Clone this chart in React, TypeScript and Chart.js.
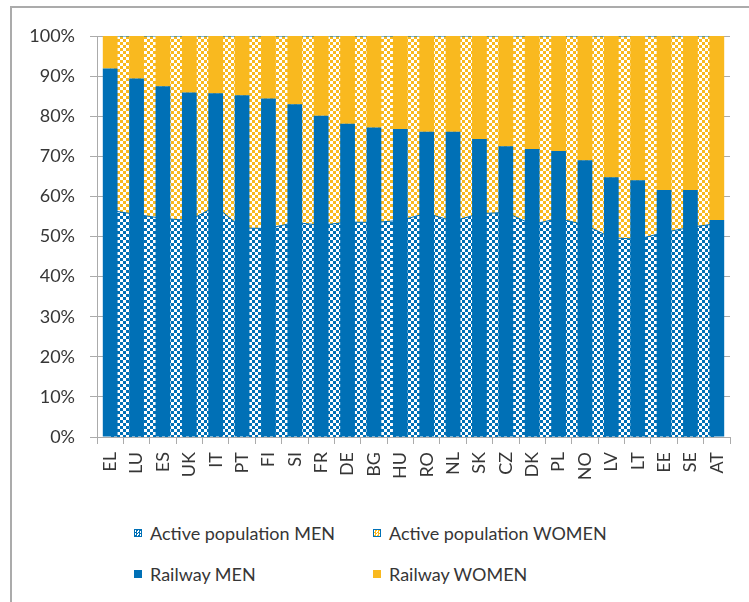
import React, { useEffect, useRef } from 'react';
import { Chart, registerables } from 'chart.js';

Chart.register(...registerables);

const categories = ['EL', 'LU', 'ES', 'UK', 'IT', 'PT', 'FI', 'SI', 'FR', 'DE', 'BG', 'HU', 'RO', 'NL', 'SK', 'CZ', 'DK', 'PL', 'NO', 'LV', 'LT', 'EE', 'SE', 'AT'];
const railwayMen = [91.9, 89.4, 87.5, 85.9, 85.7, 85.2, 84.4, 83.0, 80.1, 78.1, 77.2, 76.8, 76.1, 76.1, 74.3, 72.5, 71.8, 71.3, 69.0, 64.8, 64.0, 61.6, 61.6, 54.1];
const railwayWomen = [8.1, 10.6, 12.5, 14.1, 14.3, 14.8, 15.6, 17.0, 19.9, 21.9, 22.8, 23.2, 23.9, 23.9, 25.7, 27.5, 28.2, 28.7, 31.0, 35.2, 36.0, 38.4, 38.4, 45.9];
const activeMen = [56.5, 55.5, 54.5, 54.0, 57.5, 52.1, 52.0, 53.5, 52.8, 53.6, 53.5, 54.0, 55.8, 53.8, 55.7, 56.0, 53.0, 54.5, 52.9, 49.7, 49.3, 51.0, 52.3, 53.2];
const activeWomen = [43.5, 44.5, 45.5, 46.0, 42.5, 47.9, 48.0, 46.5, 47.2, 46.4, 46.5, 46.0, 44.2, 46.2, 44.3, 44.0, 47.0, 45.5, 47.1, 50.3, 50.7, 49.0, 47.7, 46.8];
const seriesNames = ['Active population MEN', 'Active population WOMEN', 'Railway MEN', 'Railway WOMEN'];

const BLUE = '#0070B6';
const YELLOW = '#F9B91F';
const GRID = '#ABABAB';
const TEXT = '#363636';
const FONT = 'Lato, "Open Sans", sans-serif';

function makePattern(fg: string, bg: string) {
  const c = document.createElement('canvas');
  c.width = 6;
  c.height = 6;
  const g = c.getContext('2d')!;
  g.fillStyle = bg;
  g.fillRect(0, 0, 6, 6);
  g.fillStyle = fg;
  g.fillRect(0, 0, 3, 3);
  g.fillRect(3, 3, 3, 3);
  return g.createPattern(c, 'repeat') as CanvasPattern;
}

function LegendItem({ x, y, label, box }: { x: number; y: number; label: string; box: React.CSSProperties }) {
  return (
    <div style={{ position: 'absolute', left: x, top: y, display: 'flex', alignItems: 'center', whiteSpace: 'nowrap' }}>
      <div style={{ width: 8, height: 8, boxSizing: 'border-box', marginRight: 8, ...box }} />
      <span style={{ font: `18px ${FONT}`, color: TEXT, lineHeight: '22px' }}>{label}</span>
    </div>
  );
}

export default function App() {
  const ref = useRef<HTMLCanvasElement>(null);

  useEffect(() => {
    const canvas = ref.current!;
    const blueCheck = makePattern(BLUE, '#FFFFFF');
    const yellowCheck = makePattern(YELLOW, '#FFFFFF');
    const chart = new Chart(canvas, {
      type: 'bar',
      data: {
        labels: categories,
        datasets: [
          {
            type: 'line',
            label: seriesNames[0],
            data: activeMen,
            backgroundColor: blueCheck,
            borderColor: BLUE,
            borderWidth: 1,
            pointRadius: 0,
            tension: 0,
            fill: 'origin',
            order: 1,
            stack: 'active',
          } as any,
          {
            type: 'line',
            label: seriesNames[1],
            data: activeWomen,
            backgroundColor: yellowCheck,
            borderColor: BLUE,
            borderWidth: 1,
            pointRadius: 0,
            tension: 0,
            fill: '-1',
            order: 1,
            stack: 'active',
          } as any,
          {
            label: seriesNames[2],
            data: railwayMen,
            backgroundColor: BLUE,
            order: 0,
            stack: 'rail',
            barPercentage: 0.56,
            categoryPercentage: 1,
          },
          {
            label: seriesNames[3],
            data: railwayWomen,
            backgroundColor: YELLOW,
            order: 0,
            stack: 'rail',
            barPercentage: 0.56,
            categoryPercentage: 1,
          },
        ],
      },
      options: {
        animation: false,
        responsive: false,
        devicePixelRatio: 1,
        layout: { padding: { top: 36, right: 19, left: 0, bottom: 0 } },
        plugins: { legend: { display: false }, tooltip: { enabled: false } },
        scales: {
          x: {
            stacked: true,
            offset: true,
            grid: { display: true, drawOnChartArea: false, drawTicks: true, tickLength: 7, color: GRID, offset: true },
            border: { display: true, color: GRID, width: 1 },
            ticks: { autoSkip: false, minRotation: 90, maxRotation: 90, padding: 8, color: TEXT, font: { family: FONT, size: 18 } },
            afterFit: (scale: any) => { scale.height = 45; },
          },
          y: {
            stacked: true,
            min: 0,
            max: 100,
            grid: { color: GRID, tickLength: 7, drawTicks: true },
            border: { display: true, color: GRID, width: 1 },
            ticks: {
              stepSize: 10,
              padding: 15,
              color: TEXT,
              font: { family: FONT, size: 18 },
              callback: (v: any) => `${v}%`,
            },
            afterFit: (scale: any) => { scale.width = 97; },
          },
        },
      },
    });
    return () => chart.destroy();
  }, []);

  return (
    <div style={{ position: 'absolute', left: 0, top: 0, width: 749, height: 602, overflow: 'hidden', background: '#fff' }}>
      <div style={{ position: 'absolute', left: 10, top: 6, width: 760, height: 620, border: `2px solid ${GRID}` }} />
      <canvas ref={ref} width={749} height={482} style={{ position: 'absolute', left: 0, top: 0, width: 749, height: 482 }} />
      <LegendItem x={134} y={522} label={seriesNames[0]} box={{ border: `1px solid ${BLUE}`, backgroundImage: `repeating-conic-gradient(${BLUE} 0 25%, #fff 0 50%)`, backgroundSize: '3px 3px' }} />
      <LegendItem x={373} y={522} label={seriesNames[1]} box={{ border: `1px solid ${BLUE}`, backgroundImage: `repeating-conic-gradient(${YELLOW} 0 25%, #fff 0 50%)`, backgroundSize: '3px 3px' }} />
      <LegendItem x={134} y={563} label={seriesNames[2]} box={{ background: BLUE }} />
      <LegendItem x={373} y={563} label={seriesNames[3]} box={{ background: YELLOW }} />
    </div>
  );
}
